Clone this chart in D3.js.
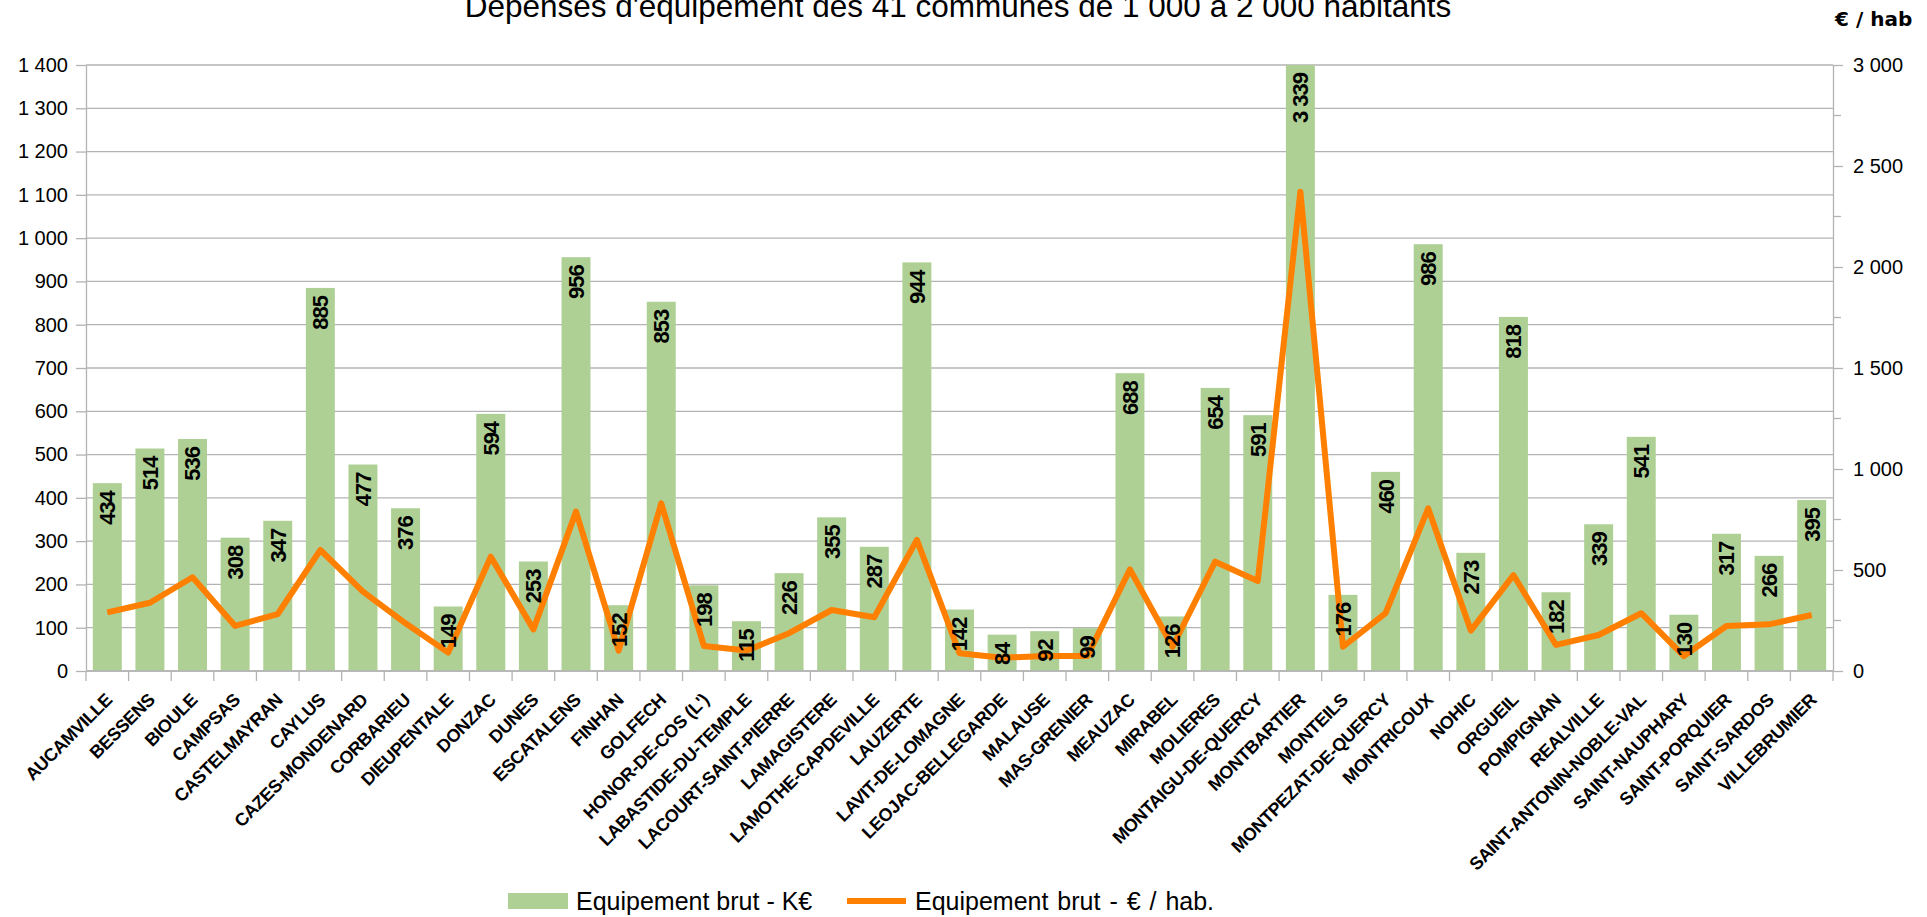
<!DOCTYPE html>
<html>
<head>
<meta charset="utf-8">
<script src="https://cdn.jsdelivr.net/npm/d3@7/dist/d3.min.js"></script>
<style>
    body { margin: 0; background: #fff; }
    text { font-family: "Liberation Sans", Arial, sans-serif; fill: #000; }
</style>
</head>
<body>
<svg id="chart" width="1927" height="917"></svg>
<script>

// ********************** //
//          Data          //
// ********************** //

var communes = ['AUCAMVILLE', 'BESSENS', 'BIOULE', 'CAMPSAS', 'CASTELMAYRAN', 'CAYLUS',
    'CAZES-MONDENARD', 'CORBARIEU', 'DIEUPENTALE', 'DONZAC', 'DUNES', 'ESCATALENS', 'FINHAN',
    'GOLFECH', "HONOR-DE-COS (L')", 'LABASTIDE-DU-TEMPLE', 'LACOURT-SAINT-PIERRE', 'LAMAGISTERE',
    'LAMOTHE-CAPDEVILLE', 'LAUZERTE', 'LAVIT-DE-LOMAGNE', 'LEOJAC-BELLEGARDE', 'MALAUSE',
    'MAS-GRENIER', 'MEAUZAC', 'MIRABEL', 'MOLIERES', 'MONTAIGU-DE-QUERCY', 'MONTBARTIER',
    'MONTEILS', 'MONTPEZAT-DE-QUERCY', 'MONTRICOUX', 'NOHIC', 'ORGUEIL', 'POMPIGNAN',
    'REALVILLE', 'SAINT-ANTONIN-NOBLE-VAL', 'SAINT-NAUPHARY', 'SAINT-PORQUIER', 'SAINT-SARDOS',
    'VILLEBRUMIER'];

// Equipement brut - K€ (bars, left axis)
var equipementK = [434, 514, 536, 308, 347, 885, 477, 376, 149, 594, 253, 956, 152,
    853, 198, 115, 226, 355, 287, 944, 142, 84, 92, 99, 688, 126, 654, 591, 3339,
    176, 460, 986, 273, 818, 182, 339, 541, 130, 317, 266, 395];

// Equipement brut - € / hab. (line, right axis)
var equipementHab = [290, 338, 464, 223, 282, 599, 393, 236, 91, 566, 206, 789, 101,
    830, 124, 101, 187, 302, 266, 649, 88, 66, 74, 74, 503, 120, 541, 446, 2373,
    120, 286, 805, 200, 475, 129, 178, 286, 74, 223, 231, 277];

var leftTicks = [0, 100, 200, 300, 400, 500, 600, 700, 800, 900, 1000, 1100, 1200, 1300, 1400];
var rightTicks = [0, 500, 1000, 1500, 2000, 2500, 3000];
var rightMinorTicks = [250, 750, 1250, 1750, 2250, 2750];

var chartTitle = "Dépenses d'équipement des 41 communes de 1 000 à 2 000 habitants";
var rightAxisTitle = '€ / hab';
var legendLabels = ['Equipement brut - K€', 'Equipement brut - € / hab.'];


// ********************** //
//         Setup          //
// ********************** //

var barColor = '#afd095',
    lineColor = '#ff8000',
    gridColor = '#b3b3b3';

var svg = d3.select('#chart'),
    width = +svg.attr('width'),
    height = +svg.attr('height');

var margin = {top: 65, right: 94, bottom: 246, left: 86};
var plotW = width - margin.left - margin.right,
    plotH = height - margin.top - margin.bottom;

var fr = d3.formatLocale({decimal: ',', thousands: ' ', grouping: [3], currency: ['', ' €']});
var fmt = fr.format(',d');

var x = d3.scaleBand()
    .domain(communes)
    .range([margin.left, margin.left + plotW])
    .paddingInner(0.32)
    .paddingOuter(0.16);

var yLeft = d3.scaleLinear()
    .domain([0, 1400])
    .range([margin.top + plotH, margin.top]);

var yRight = d3.scaleLinear()
    .domain([0, 3000])
    .range([margin.top + plotH, margin.top]);

svg.append('rect').attr('width', width).attr('height', height).attr('fill', '#fff');

svg.append('defs').append('clipPath')
    .attr('id', 'plotClip')
    .append('rect')
    .attr('x', margin.left)
    .attr('y', margin.top)
    .attr('width', plotW)
    .attr('height', plotH);


// ***** Grid ***** //
svg.append('g')
    .attr('class', 'grid')
    .selectAll('line')
    .data(leftTicks)
    .enter()
    .append('line')
    .attr('x1', margin.left)
    .attr('x2', margin.left + plotW)
    .attr('y1', d => yLeft(d))
    .attr('y2', d => yLeft(d))
    .attr('stroke', gridColor)
    .attr('stroke-width', 1.3);


// ***** Bars ***** //
svg.append('g')
    .attr('clip-path', 'url(#plotClip)')
    .selectAll('rect')
    .data(equipementK)
    .enter()
    .append('rect')
    .attr('x', (d, i) => x(communes[i]))
    .attr('y', d => yLeft(d))
    .attr('width', x.bandwidth())
    .attr('height', d => yLeft(0) - yLeft(d))
    .attr('fill', barColor);


// ***** Line ***** //
var line = d3.line()
    .x((d, i) => x(communes[i]) + x.bandwidth() / 2)
    .y(d => yRight(d));

svg.append('path')
    .datum(equipementHab)
    .attr('d', line)
    .attr('fill', 'none')
    .attr('stroke', lineColor)
    .attr('stroke-width', 6)
    .attr('stroke-linejoin', 'round');


// ***** Data labels ***** //
svg.append('g')
    .selectAll('text')
    .data(equipementK)
    .enter()
    .append('text')
    .attr('transform', (d, i) => 'translate(' + (x(communes[i]) + x.bandwidth() / 2) + ','
        + (yLeft(Math.min(d, 1400)) + 8) + ') rotate(-90)')
    .attr('text-anchor', 'end')
    .attr('dy', '0.36em')
    .style('font-size', '22px')
    .style('font-weight', 'bold')
    .style('letter-spacing', '-1px')
    .text(d => fmt(d));


// ***** Axes ***** //
var axisLeft = svg.append('g')
    .attr('transform', 'translate(' + margin.left + ',0)')
    .call(d3.axisLeft(yLeft).tickValues(leftTicks).tickFormat(fmt).tickSize(10).tickSizeOuter(0).tickPadding(8));

var axisRight = svg.append('g')
    .attr('transform', 'translate(' + (margin.left + plotW) + ',0)')
    .call(d3.axisRight(yRight).tickValues(rightTicks).tickFormat(fmt).tickSize(10).tickSizeOuter(0).tickPadding(10));

svg.append('g')
    .attr('transform', 'translate(' + (margin.left + plotW) + ',0)')
    .selectAll('line')
    .data(rightMinorTicks)
    .enter()
    .append('line')
    .attr('x1', 0)
    .attr('x2', 8)
    .attr('y1', d => yRight(d))
    .attr('y2', d => yRight(d))
    .attr('stroke', gridColor)
    .attr('stroke-width', 1.3);

[axisLeft, axisRight].forEach(function (a) {
    a.select('.domain').attr('stroke', gridColor).attr('stroke-width', 1.3);
    a.selectAll('.tick line').attr('stroke', gridColor).attr('stroke-width', 1.3);
    a.selectAll('.tick text')
        .style('font-size', '20px')
        .style('font-family', '"Liberation Sans", Arial, sans-serif')
        .attr('fill', '#000');
});

// category axis: baseline and separators between communes
var bottomY = yLeft(0);
svg.append('line')
    .attr('x1', margin.left).attr('x2', margin.left + plotW)
    .attr('y1', bottomY).attr('y2', bottomY)
    .attr('stroke', gridColor).attr('stroke-width', 1.3);

svg.append('g')
    .selectAll('line')
    .data(d3.range(communes.length + 1))
    .enter()
    .append('line')
    .attr('x1', i => margin.left + i * x.step())
    .attr('x2', i => margin.left + i * x.step())
    .attr('y1', bottomY)
    .attr('y2', bottomY + 10)
    .attr('stroke', gridColor)
    .attr('stroke-width', 1.3);

svg.append('g')
    .selectAll('text')
    .data(communes)
    .enter()
    .append('text')
    .attr('transform', d => 'translate(' + (x(d) + x.bandwidth() / 2 + 6) + ',' + (bottomY + 30) + ') rotate(-45)')
    .attr('text-anchor', 'end')
    .style('font-size', '18px')
    .style('font-weight', 'bold')
    .style('letter-spacing', '-0.4px')
    .text(d => d);


// ***** Titles ***** //
svg.append('text')
    .attr('x', 958)
    .attr('y', 17)
    .attr('text-anchor', 'middle')
    .style('font-size', '31.5px')
    .text(chartTitle);

svg.append('text')
    .attr('x', margin.left + plotW + 2)
    .attr('y', 26)
    .style('font-family', '"DejaVu Sans", sans-serif')
    .style('font-size', '20px')
    .style('font-weight', 'bold')
    .text(rightAxisTitle);


// ***** Legend ***** //
var legend = svg.append('g').attr('transform', 'translate(508,901)');

legend.append('rect')
    .attr('x', 0).attr('y', -8)
    .attr('width', 60).attr('height', 16)
    .attr('fill', barColor);

legend.append('text')
    .attr('x', 68).attr('y', 9)
    .style('font-size', '25px')
    .text(legendLabels[0]);

legend.append('line')
    .attr('x1', 339).attr('x2', 398)
    .attr('y1', 0).attr('y2', 0)
    .attr('stroke', lineColor)
    .attr('stroke-width', 6);

legend.append('text')
    .attr('x', 407).attr('y', 9)
    .style('font-size', '25px')
    .style('word-spacing', '2px')
    .text(legendLabels[1]);

</script>
</body>
</html>
